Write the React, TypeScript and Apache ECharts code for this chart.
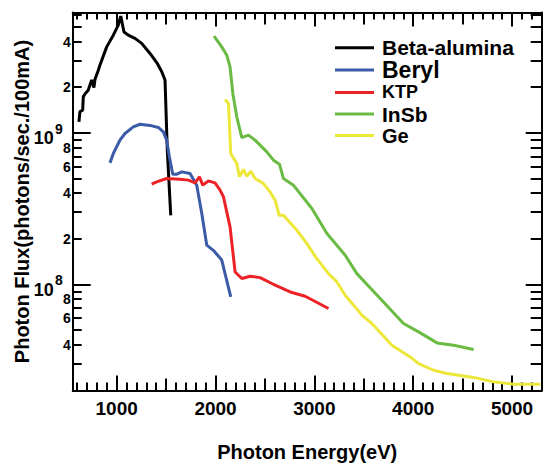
import React, { useEffect, useRef } from "react";
import * as echarts from "echarts";

const FONT = '"Liberation Sans", Arial, Helvetica, sans-serif';

const seriesNames = ["Beta-alumina", "Beryl", "KTP", "InSb", "Ge"];
const seriesColors = ["#000000", "#3b5ba8", "#ec2227", "#6abb44", "#ede73a"];
const legendFontSizes = [21, 23, 18, 21, 20];

const betaEnergy = [618, 628, 656, 662, 682, 712, 747, 770, 780, 814, 831, 899, 966, 1016, 1041, 1074, 1117, 1185, 1253, 1337, 1411, 1456, 1489, 1512, 1547];
const betaFlux = [1.18e9, 1.38e9, 1.41e9, 1.73e9, 1.82e9, 1.91e9, 2.23e9, 1.99e9, 2.25e9, 2.59e9, 2.8e9, 3.69e9, 4.41e9, 5.13e9, 5.89e9, 4.63e9, 4.41e9, 4.2e9, 3.89e9, 3.34e9, 2.87e9, 2.53e9, 2.23e9, 7.69e8, 2.86e8];

const berylEnergy = [932, 966, 1033, 1084, 1168, 1236, 1337, 1421, 1472, 1506, 1533, 1567, 1608, 1658, 1742, 1810, 1861, 1911, 1978, 2063, 2154];
const berylFlux = [6.34e8, 7.31e8, 8.95e8, 9.9e8, 1.096e9, 1.14e9, 1.12e9, 1.086e9, 1.015e9, 8.95e8, 6.95e8, 5.34e8, 5.34e8, 5.53e8, 5.4e8, 4.52e8, 2.94e8, 1.82e8, 1.68e8, 1.45e8, 8.28e7];

const ktpEnergy = [1354, 1405, 1506, 1641, 1725, 1793, 1837, 1871, 1928, 1995, 2046, 2080, 2147, 2198, 2266, 2350, 2451, 2570, 2755, 2907, 3143];
const ktpFlux = [4.59e8, 4.75e8, 5.0e8, 4.95e8, 4.88e8, 4.68e8, 5.13e8, 4.52e8, 4.82e8, 4.68e8, 4.19e8, 3.79e8, 2.4e8, 1.21e8, 1.095e8, 1.134e8, 1.11e8, 1.015e8, 8.93e7, 8.37e7, 6.95e7];

const insbEnergy = [1985, 2063, 2114, 2147, 2175, 2215, 2266, 2333, 2400, 2519, 2586, 2647, 2687, 2788, 2975, 3127, 3312, 3430, 3666, 3902, 4054, 4241, 4409, 4611];
const insbFlux = [4.35e9, 3.69e9, 3.25e9, 2.72e9, 1.82e9, 1.275e9, 9.3e8, 9.66e8, 8.95e8, 7.49e8, 6.61e8, 6.22e8, 5.0e8, 4.52e8, 3.17e8, 2.17e8, 1.56e8, 1.18e8, 8.09e7, 5.53e7, 4.87e7, 4.12e7, 3.98e7, 3.73e7];

const geEnergy = [2097, 2131, 2154, 2215, 2242, 2282, 2316, 2357, 2400, 2485, 2552, 2603, 2644, 2687, 2823, 2924, 3025, 3143, 3228, 3312, 3481, 3582, 3785, 3970, 4054, 4206, 4342, 4611, 4813, 5016, 5286];
const geFlux = [1.66e9, 1.56e9, 7.31e8, 6.28e8, 5.13e8, 5.73e8, 5.18e8, 5.58e8, 5.0e8, 4.63e8, 4.08e8, 3.6e8, 2.86e8, 2.86e8, 2.28e8, 1.86e8, 1.48e8, 1.18e8, 1.04e8, 8.49e7, 6.28e7, 5.53e7, 3.98e7, 3.33e7, 3.01e7, 2.72e7, 2.59e7, 2.44e7, 2.28e7, 2.2e7, 2.2e7];

const allEnergy = [betaEnergy, berylEnergy, ktpEnergy, insbEnergy, geEnergy];
const allFlux = [betaFlux, berylFlux, ktpFlux, insbFlux, geFlux];

const xMajorLabels = [1000, 2000, 3000, 4000, 5000];
const xHalfTicks = [1500, 2500, 3500, 4500];
const xMinorTicks: number[] = [];
for (let v = 600; v <= 5200; v += 100) if (v % 500 !== 0) xMinorTicks.push(v);

const yDecades = [1e8, 1e9];
const yDecadeBase = "10";
const yMinorTicks = [3e7, 4e7, 5e7, 6e7, 7e7, 8e7, 9e7, 2e8, 3e8, 4e8, 5e8, 6e8, 7e8, 8e8, 9e8, 2e9, 3e9, 4e9, 5e9, 6e9];
const yMinorLabels = [4e7, 6e7, 8e7, 2e8, 4e8, 6e8, 8e8, 2e9, 4e9];

const X_MIN = 555;
const X_MAX = 5300;
const Y_MIN = 2e7;
const Y_MAX = 6.22e9;

// vertical offsets (in decades) of the "10" base and its exponent around the decade tick
const BASE_SHIFT = -0.033;
const EXP_SHIFT = 0.027;

const lg = (v: number) => Math.log10(v);
const BLACK = "#000";

function xTickAxis(position: string, values: number[], length: number, showLine: boolean) {
  return {
    type: "value",
    position,
    min: X_MIN,
    max: X_MAX,
    axisLine: { show: showLine, onZero: false, lineStyle: { color: BLACK, width: 2 } },
    axisTick: { show: true, inside: true, length, customValues: values, lineStyle: { color: BLACK, width: 2 } },
    axisLabel: { show: false },
    splitLine: { show: false },
  };
}

function yTickAxis(position: string, values: number[], length: number, showLine: boolean) {
  return {
    type: "value",
    position,
    min: lg(Y_MIN),
    max: lg(Y_MAX),
    axisLine: { show: showLine, onZero: false, lineStyle: { color: BLACK, width: 2 } },
    axisTick: { show: values.length > 0, inside: true, length, customValues: values.map(lg), lineStyle: { color: BLACK, width: 2 } },
    axisLabel: { show: false },
    splitLine: { show: false },
  };
}

export default function App() {
  const ref = useRef<HTMLDivElement>(null);

  useEffect(() => {
    if (!ref.current) return;
    const chart = echarts.init(ref.current, null, { renderer: "svg" });

    const bottomMajor: any = xTickAxis("bottom", xMajorLabels, 15, true);
    bottomMajor.axisLabel = {
      show: true,
      customValues: xMajorLabels,
      margin: 8,
      fontFamily: FONT,
      fontWeight: "bold",
      fontSize: 19,
      color: BLACK,
      formatter: (v: number) => String(Math.round(v)),
    };
    bottomMajor.name = "Photon Energy(eV)";
    bottomMajor.nameLocation = "middle";
    bottomMajor.nameGap = 51;
    bottomMajor.nameTextStyle = { fontFamily: FONT, fontWeight: "bold", fontSize: 20, color: BLACK };

    // "10" part of decade labels (ticks at the decades)
    const leftDecade: any = yTickAxis("left", yDecades, 18, false);
    leftDecade.axisLabel = {
      show: true,
      customValues: yDecades.map((d) => lg(d) + BASE_SHIFT),
      margin: 19,
      fontFamily: FONT,
      fontWeight: "bold",
      fontSize: 18,
      color: BLACK,
      formatter: () => yDecadeBase,
    };

    // exponent (superscript) part of decade labels
    const leftExp: any = yTickAxis("left", [], 0, false);
    leftExp.axisLabel = {
      show: true,
      customValues: yDecades.map((d) => lg(d) + EXP_SHIFT),
      margin: 10,
      fontFamily: FONT,
      fontWeight: "bold",
      fontSize: 14,
      color: BLACK,
      formatter: (v: number) => String(Math.round(v)),
    };

    const leftMinor: any = yTickAxis("left", yMinorTicks, 9, false);
    leftMinor.axisLabel = {
      show: true,
      customValues: yMinorLabels.map(lg),
      margin: 2,
      fontFamily: FONT,
      fontWeight: "bold",
      fontSize: 14,
      color: BLACK,
      formatter: (v: number) => String(Math.round(Math.pow(10, v - Math.floor(v + 1e-9)))),
    };

    const option: any = {
      animation: false,
      backgroundColor: "#ffffff",
      grid: { left: 72.7, right: 4.3, top: 12.5, bottom: 77.5, containLabel: false, outerBoundsMode: "none" },
      legend: {
        orient: "vertical",
        left: 330,
        top: 32,
        itemWidth: 39,
        itemHeight: 3,
        itemGap: 0,
        icon: "rect",
        selectedMode: false,
        textStyle: { fontFamily: FONT, fontWeight: "bold", fontSize: 20, color: BLACK, lineHeight: 21.6, padding: [0, 0, 0, 3] },
        data: seriesNames.map((name, i) => ({
          name,
          textStyle: {
            fontFamily: FONT,
            fontWeight: "bold",
            fontSize: legendFontSizes[i],
            color: BLACK,
            lineHeight: 21.6,
            padding: [0, 0, 0, 3],
          },
        })),
      },
      xAxis: [
        bottomMajor,
        xTickAxis("bottom", xHalfTicks, 12, false),
        xTickAxis("bottom", xMinorTicks, 8, false),
        xTickAxis("top", xMajorLabels, 14, true),
        xTickAxis("top", xHalfTicks, 12, false),
        xTickAxis("top", xMinorTicks, 7, false),
      ],
      yAxis: [
        {
          type: "log",
          logBase: 10,
          position: "left",
          min: Y_MIN,
          max: Y_MAX,
          axisLine: { show: true, onZero: false, lineStyle: { color: BLACK, width: 2 } },
          axisTick: { show: false },
          axisLabel: { show: false },
          splitLine: { show: false },
          name: "Photon Flux(photons/sec./100mA)",
          nameLocation: "middle",
          nameGap: 41,
          nameTextStyle: { fontFamily: FONT, fontWeight: "bold", fontSize: 20, color: BLACK },
        },
        leftDecade,
        leftExp,
        leftMinor,
        yTickAxis("right", yDecades, 16, true),
        yTickAxis("right", yMinorTicks, 11, false),
      ],
      series: seriesNames.map((name, i) => ({
        type: "line",
        name,
        xAxisIndex: 0,
        yAxisIndex: 0,
        data: allEnergy[i].map((e, j) => [e, allFlux[i][j]]),
        showSymbol: false,
        symbol: "none",
        lineStyle: { color: seriesColors[i], width: 3 },
        itemStyle: { color: seriesColors[i] },
      })),
    };

    chart.setOption(option);
    return () => chart.dispose();
  }, []);

  return <div ref={ref} style={{ position: "fixed", left: 0, top: 0, width: 546, height: 468 }} />;
}
